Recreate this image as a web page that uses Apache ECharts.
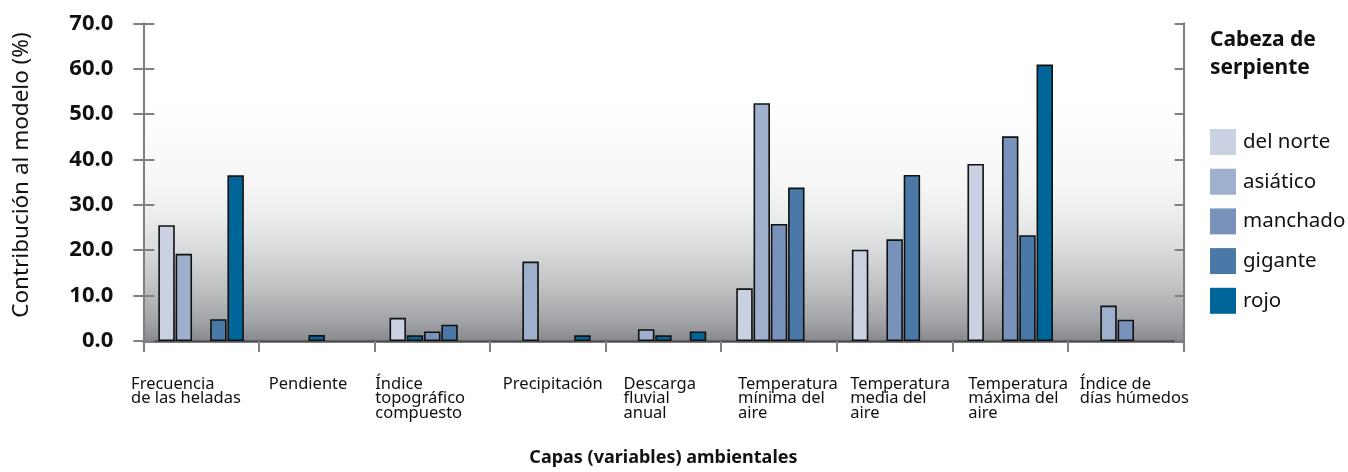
<!DOCTYPE html>
<html>
<head>
<meta charset="utf-8">
<script src="https://cdn.jsdelivr.net/npm/echarts@6/dist/echarts.min.js"></script>
<style>
html,body{margin:0;padding:0;background:#fff;}
#c{width:1348px;height:472px;}
</style>
</head>
<body>
<div id="c"></div>
<script>
// ---- data ----
const categories = [
  'Frecuencia\nde las heladas',
  'Pendiente',
  'Índice\ntopográfico\ncompuesto',
  'Precipitación',
  'Descarga\nfluvial\nanual',
  'Temperatura\nmínima del\naire',
  'Temperatura\nmedia del\naire',
  'Temperatura\nmáxima del\naire',
  'Índice de\ndías húmedos'
];
const seriesNames = ['del norte', 'asiático', 'manchado', 'gigante', 'rojo'];
const delNorte = [25.5, null, 5.1, null, null, 11.6, 20.1, 39.0, null];
const asiatico = [19.2, null, 1.25, 17.5, 2.6, 52.4, null, null, 7.8];
const manchado = [null, 1.3, 2.1, null, 1.25, 25.8, 22.4, 45.1, 4.7];
const gigante  = [4.8, null, 3.6, null, null, 33.8, 36.6, 23.3, null];
const rojo     = [36.5, null, null, 1.25, 2.1, null, null, 60.9, null];
const yMin = 0, yMax = 70, yStep = 10;

// ---- style ----
const FONT = 'Noto Sans';
const colors = ['#c9d1e2', '#9eb0cc', '#7892bb', '#4a79a8', '#00669a'];
const tinyColor = '#00669a';
const labelBoxWidths = [140, 96, 114, 90, 80, 82, 89, 84, 92];

const values = [delNorte, asiatico, manchado, gigante, rojo];

const chart = echarts.init(document.getElementById('c'), null, {renderer: 'canvas'});

const rich = {};
labelBoxWidths.forEach((w, i) => {
  rich['l' + i] = {width: w, align: 'left', fontSize: 16.5, lineHeight: 14.5, fontFamily: FONT, color: '#111'};
});

const series = values.map((arr, si) => ({
  name: seriesNames[si],
  type: 'bar',
  barCategoryGap: '26%',
  barGap: '5%',
  itemStyle: {color: colors[si], borderColor: '#111', borderWidth: 1.6},
  data: arr.map(v => (v !== null && v < 1.5) ? {value: v, itemStyle: {color: tinyColor}} : v)
}));

const commonY = {
  type: 'value', min: yMin, max: yMax, interval: yStep,
  splitLine: {show: false}
};

chart.setOption({
  animation: false,
  textStyle: {fontFamily: FONT},
  title: {
    text: 'Cabeza de\nserpiente',
    left: 1210, top: 26, padding: 0,
    textStyle: {fontFamily: FONT, fontSize: 21, fontWeight: 'bold', lineHeight: 28, color: '#111'}
  },
  legend: {
    orient: 'vertical', left: 1210, top: 129, padding: 0,
    itemWidth: 26, itemHeight: 26, itemGap: 13.7,
    icon: 'rect',
    itemStyle: {borderWidth: 0},
    textStyle: {fontFamily: FONT, fontSize: 20.5, color: '#111', padding: [0, 0, 0, 2]},
    data: seriesNames
  },
  grid: {
    left: 143.3, right: 164.4, top: 23.3, bottom: 129.3,
    show: true, borderWidth: 0,
    backgroundColor: new echarts.graphic.LinearGradient(0, 0, 0, 1, [
      {offset: 0, color: '#ffffff'},
      {offset: 0.25, color: '#ffffff'},
      {offset: 0.51, color: '#f5f6f5'},
      {offset: 0.62, color: '#eaeceb'},
      {offset: 0.72, color: '#d8d9db'},
      {offset: 0.83, color: '#c0c1c3'},
      {offset: 0.94, color: '#a2a3a6'},
      {offset: 1, color: '#88898c'}
    ])
  },
  xAxis: {
    type: 'category',
    data: categories,
    axisLine: {lineStyle: {color: '#505053', width: 2.5}},
    axisTick: {show: true, length: 11, lineStyle: {color: '#808083', width: 2}},
    axisLabel: {
      interval: 0, margin: 36, align: 'center', verticalAlign: 'top',
      formatter: (v, i) => '{l' + i + '|' + v + '}',
      rich: rich
    },
    name: 'Capas (variables) ambientales',
    nameLocation: 'middle', nameGap: 108,
    nameTextStyle: {fontFamily: FONT, fontSize: 18, fontWeight: 'bold', color: '#111', verticalAlign: 'top'}
  },
  yAxis: [
    Object.assign({}, commonY, {
      position: 'left',
      axisLine: {show: true, lineStyle: {color: '#808083', width: 2}},
      axisTick: {show: true, length: 10, lineStyle: {color: '#808083', width: 2}},
      axisLabel: {margin: 30, fontFamily: FONT, fontSize: 22, fontWeight: 'bold', color: '#111',
        formatter: v => v.toFixed(1)}
    }),
    Object.assign({}, commonY, {
      position: 'left', offset: 0,
      axisLine: {show: false},
      axisTick: {show: true, inside: true, length: 11, lineStyle: {color: '#808083', width: 2}},
      axisLabel: {show: false}
    }),
    Object.assign({}, commonY, {
      position: 'right', offset: 0,
      axisLine: {show: true, lineStyle: {color: '#808083', width: 2}},
      axisTick: {show: true, inside: true, length: 9, lineStyle: {color: '#808083', width: 2}},
      axisLabel: {show: false}
    })
  ],
  graphic: [{
    type: 'text',
    x: 22, y: 175,
    rotation: Math.PI / 2,
    style: {
      text: 'Contribución al modelo (%)',
      fontFamily: FONT, fontSize: 22.5, fill: '#111',
      align: 'center', verticalAlign: 'middle'
    }
  }],
  series: series
});
</script>
</body>
</html>
